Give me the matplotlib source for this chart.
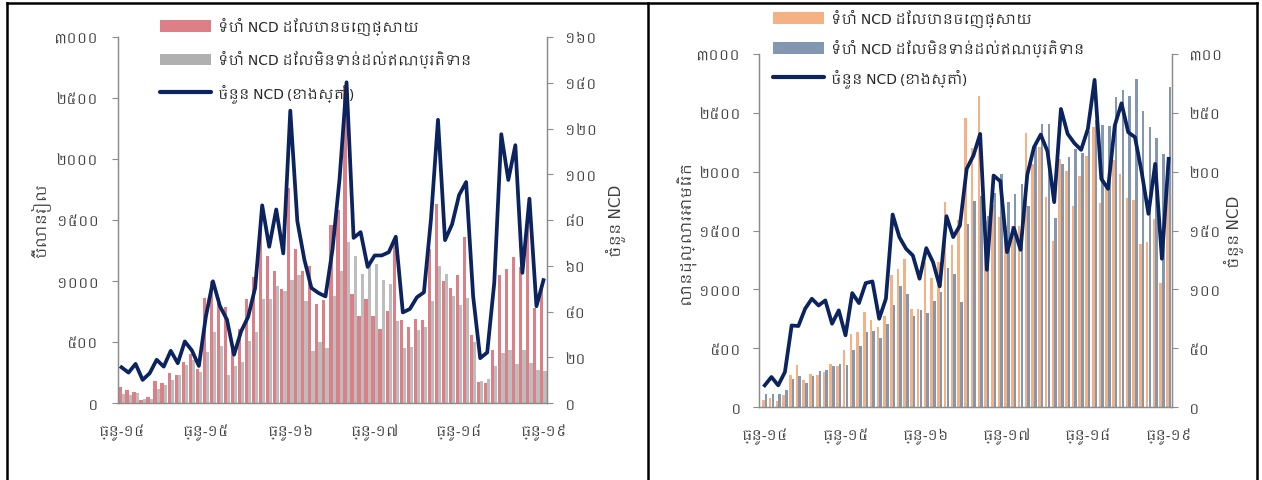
import matplotlib
matplotlib.use('Agg')
import matplotlib.pyplot as plt
from matplotlib import font_manager
from matplotlib.lines import Line2D
from matplotlib.patches import Patch
import numpy as np

# Khmer text needs a Khmer-capable face when one is available
khmer_faces = sorted({f.name for f in font_manager.fontManager.ttflist if 'Khmer' in f.name})
plt.rcParams['font.family'] = khmer_faces[:1] + ['DejaVu Sans']

KHMER_DIGITS = str.maketrans('0123456789', '០១២៣៤៥៦៧៨៩')

# Monthly series, Dec-14 .. Dec-19
months = np.arange(61)
tick_pos = [0, 12, 24, 36, 48, 60]
tick_labels = ['ធ្នូ-១៤', 'ធ្នូ-១៥', 'ធ្នូ-១៦', 'ធ្នូ-១៧', 'ធ្នូ-១៨', 'ធ្នូ-១៩']

label_issued = 'ទំហំ NCD ដែលបានចេញផ្សាយ'
label_outstanding = 'ទំហំ NCD ដែលមិនទាន់ដល់ឥណប្រតិទាន'
label_count = 'ចំនួន NCD (ខាងស្តាំ)'

# KHR NCDs (billion riel) and number of NCDs
riel_issued = [129, 107, 88, 25, 52, 181, 167, 249, 230, 340, 403, 277,
               860, 1000, 860, 786, 436, 610, 850, 1035, 1480, 1205, 1078, 934,
               1765, 1263, 1079, 1126, 814, 847, 1463, 1586, 2600, 893, 710, 852,
               715, 605, 751, 1353, 682, 622, 688, 682, 1263, 1633, 997, 942,
               1047, 1362, 560, 170, 162, 431, 1050, 1100, 1197, 1115, 1463, 778, 937]
riel_outstanding = [71, 66, 79, 30, 30, 118, 145, 189, 230, 312, 353, 258,
                    415, 580, 468, 230, 305, 335, 510, 580, 855, 855, 956, 920,
                    1010, 1050, 835, 430, 496, 449, 874, 1079, 1318, 1208, 1058, 1140,
                    1140, 1005, 978, 674, 449, 458, 600, 622, 838, 1126, 1058, 874,
                    805, 860, 496, 178, 197, 302, 408, 433, 318, 435, 326, 271, 260]
riel_count = [15.6, 13.3, 17.1, 10.1, 13.0, 18.9, 15.9, 22.8, 17.4, 26.9, 23.0, 16.2,
              37.9, 53.2, 42.3, 36.4, 21.1, 31.3, 37.6, 50.3, 86.4, 68.3, 84.6, 65.4,
              127.8, 79.5, 62.7, 50.3, 48.1, 46.6, 67.1, 97.8, 140.2, 72.2, 74.7, 59.5,
              64.5, 64.5, 65.9, 72.7, 39.6, 41.1, 46.2, 48.4, 80.3, 123.8, 71.2, 78.1,
              90.9, 96.6, 46.6, 19.6, 22.1, 52.5, 117.5, 97.5, 112.7, 56.9, 89.3, 42.3, 53.7]

# USD NCDs (million dollars) and number of NCDs
usd_issued = [62, 79, 51, 99, 269, 359, 226, 283, 275, 297, 362, 345,
              487, 623, 637, 804, 741, 679, 770, 1118, 1172, 1259, 835, 835,
              1231, 1098, 1231, 1746, 1378, 1590, 2456, 2202, 2646, 1580, 1718, 1613,
              1542, 1534, 1534, 2326, 2066, 2207, 1783, 1415, 2108, 2009, 1704, 1967,
              2131, 2383, 1732, 1888, 2100, 1981, 1777, 1755, 1387, 1401, 1600, 1056, 1900]
usd_outstanding = [108, 113, 113, 142, 241, 260, 207, 260, 306, 317, 348, 368,
                   354, 487, 515, 634, 645, 589, 702, 863, 1030, 957, 770, 826,
                   798, 897, 974, 1183, 1132, 889, 1557, 1749, 1797, 1620, 1817, 1981,
                   1740, 1811, 1896, 1712, 2207, 2405, 2405, 1607, 2066, 2122, 2193, 2156,
                   2343, 2439, 2400, 2391, 2632, 2694, 2646, 2788, 2519, 2377, 2287, 2150, 2720]
usd_count = [18.4, 25.5, 18.4, 29.7, 69.3, 68.8, 83.5, 92.0, 86.3, 90.6, 70.8, 82.1,
             60.9, 96.8, 88.3, 105.3, 106.7, 75.0, 92.0, 163.6, 144.4, 134.4, 128.8, 109.0,
             135.0, 123.1, 102.5, 162.2, 144.4, 154.3, 202.4, 213.7, 232.1, 116.6, 196.7, 191.9,
             131.6, 152.3, 133.6, 197.3, 220.8, 231.5, 217.4, 174.1, 253.3, 232.1, 224.2, 218.5,
             236.3, 278.0, 193.9, 185.4, 239.2, 258.1, 233.5, 229.3, 199.5, 164.2, 206.6, 126.0, 210.9]

NAVY = '#0B2460'
SPINE = '#8C8C8C'
TEXT = '#404040'

W, H = 1262, 481
fig = plt.figure(figsize=(W / 100, H / 100), dpi=100)


def khmer_ticks(values):
    return [str(v).translate(KHMER_DIGITS) for v in values]


def draw_panel(rect, issued, outstanding, count, colors, width, offset,
               xlim, left_max, right_max, right_step, ylabel_left, pads):
    ax = fig.add_axes(rect)
    ax.bar(months - offset, issued, width=width, color=colors[0], zorder=2)
    ax.bar(months + offset, outstanding, width=width, color=colors[1], zorder=2)
    ax.set_xlim(*xlim)
    ax.set_ylim(0, left_max)
    left_ticks = list(range(0, left_max + 1, 500))
    ax.set_yticks(left_ticks)
    ax.set_yticklabels(khmer_ticks(left_ticks), fontsize=10, color=TEXT)
    ax.set_xticks(tick_pos)
    ax.set_xticklabels(tick_labels, fontsize=10, color=TEXT)
    ax.tick_params(axis='x', length=0, pad=15)
    ax.tick_params(axis='y', length=4, width=0.8, color=SPINE, pad=pads[0])
    ax.set_ylabel(ylabel_left, fontsize=11, color=TEXT, labelpad=pads[1])

    ax2 = ax.twinx()
    ax2.plot(months, count, color=NAVY, lw=2.7, solid_joinstyle='round', zorder=3)
    ax2.set_ylim(0, right_max)
    right_ticks = list(range(0, right_max + 1, right_step))
    ax2.set_yticks(right_ticks)
    ax2.set_yticklabels(khmer_ticks(right_ticks), fontsize=10, color=TEXT)
    ax2.tick_params(axis='y', length=4, width=0.8, color=SPINE, pad=pads[2])
    ax2.set_ylabel('ចំនួន NCD', fontsize=11, color=TEXT, labelpad=pads[3])

    for a in (ax, ax2):
        a.spines['top'].set_visible(False)
        for side in ('left', 'right', 'bottom'):
            a.spines[side].set_color(SPINE)
            a.spines[side].set_linewidth(0.9)
    return ax, ax2


# Left panel: riel
draw_panel([118 / W, 1 - 404 / H, 429 / W, 366 / H],
           riel_issued, riel_outstanding, riel_count,
           ('#DC7F87', '#BDBDBD'), 0.46, 0.23, (-0.5, 60.5),
           3000, 160, 20, 'ប៊ីលានរៀល', (10, 3, 9, 6))

# Right panel: US dollar
draw_panel([759 / W, 1 - 408 / H, 413 / W, 353 / H],
           usd_issued, usd_outstanding, usd_count,
           ('#F4B183', '#8497B0'), 0.38, 0.2, (-0.85, 60.5),
           3000, 300, 50, 'លានដុល្លារអាមេរិក', (9, 0, 8, 1))

# Legends
for x0, y0, colors, spacing in ((160, 18, ('#DC7F87', '#B0B0B0'), 1.1),
                                (773, 10, ('#F4B183', '#8497B0'), 0.85)):
    handles = [Patch(facecolor=colors[0], edgecolor='none'),
               Patch(facecolor=colors[1], edgecolor='none'),
               Line2D([], [], color=NAVY, lw=3, solid_capstyle='round')]
    fig.legend(handles, [label_issued, label_outstanding, label_count],
               loc='upper left', bbox_to_anchor=(x0 / W, 1 - y0 / H),
               frameon=False, fontsize=10, handlelength=3.7, handleheight=0.9,
               handletextpad=0.45, labelspacing=spacing, borderaxespad=0,
               borderpad=0, labelcolor='#262626')

# Frame around the two panels
frame = dict(color='black', lw=1.8, transform=fig.transFigure)
fig.add_artist(Line2D([7 / W, 1257 / W], [1 - 4 / H, 1 - 4 / H], **frame))
fig.add_artist(Line2D([7 / W, 7 / W], [0, 1 - 4 / H], **frame))
fig.add_artist(Line2D([1257 / W, 1257 / W], [0, 1 - 4 / H], **frame))
fig.add_artist(Line2D([648 / W, 648 / W], [0, 1 - 4 / H], **frame))

fig.savefig('out.png', dpi=100, facecolor='white')
